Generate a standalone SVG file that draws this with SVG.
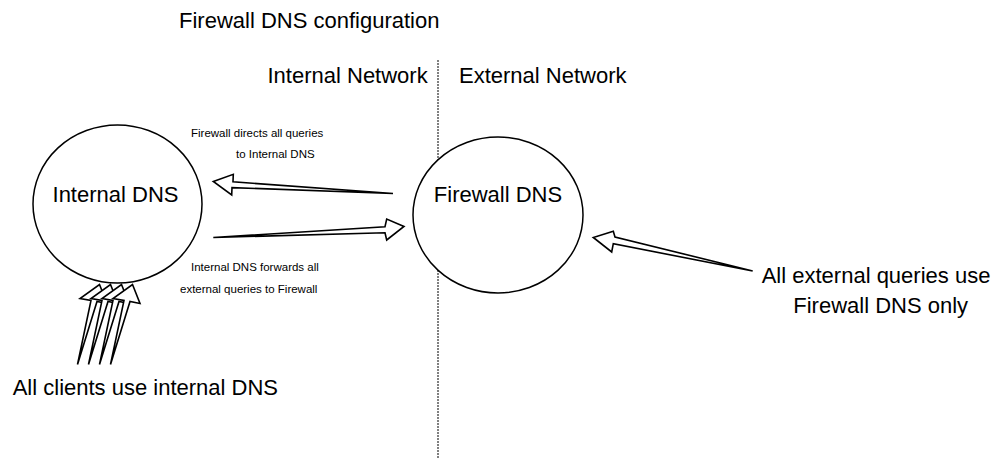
<svg xmlns="http://www.w3.org/2000/svg" width="996" height="458" viewBox="0 0 996 458">
  <style>
    text { font-family: "Liberation Sans", Arial, sans-serif; fill: #000; }
    .big { font-size: 22px; }
    .small { font-size: 11.5px; }
    .node { fill: #fff; stroke: #000; stroke-width: 1.5; }
    .arrow { fill: #fff; stroke: #000; stroke-width: 1.6; stroke-linejoin: miter; }
    .divider { stroke: #000; stroke-width: 1; stroke-dasharray: 2 1; fill: none; }
  </style>
  <defs>
    <!-- tapered block arrow for a client query -->
    <polygon id="client-arrow" class="arrow" points="77.5,364.5 91,300.5 80,298.5 99.5,284.5 107,303.5 97,301.5"/>
  </defs>

  <rect width="996" height="458" fill="#fff"/>

  <text class="big" x="179" y="27.5">Firewall DNS configuration</text>

  <!-- network boundary -->
  <g id="boundary">
    <line class="divider" x1="438" y1="60" x2="438" y2="458"/>
    <text class="big" x="267.5" y="83">Internal Network</text>
    <text class="big" x="459" y="83">External Network</text>
  </g>

  <g id="internal-dns">
    <ellipse class="node" cx="117.5" cy="204" rx="84.5" ry="79"/>
    <text class="big" x="115.5" y="202" text-anchor="middle">Internal DNS</text>
  </g>

  <g id="firewall-dns">
    <ellipse class="node" cx="498" cy="215" rx="85" ry="78"/>
    <text class="big" x="498" y="202" text-anchor="middle">Firewall DNS</text>
  </g>

  <g id="connectors">
    <!-- Firewall DNS to Internal DNS -->
    <polygon class="arrow" points="393,193.5 233,181.8 233.3,174.3 213.3,181.5 231.7,195 232,187.6"/>
    <!-- Internal DNS to Firewall DNS -->
    <polygon class="arrow" points="213.3,237.5 385,226.7 386.7,219 404,226.5 386.7,240 385,232.7"/>
    <!-- external queries to Firewall DNS -->
    <polygon class="arrow" points="752.7,271 615,237 613.3,231.3 593.3,237.5 611.7,252 613.3,243.7"/>
    <!-- clients to Internal DNS -->
    <use href="#client-arrow"/>
    <use href="#client-arrow" transform="translate(11,0)"/>
    <use href="#client-arrow" transform="translate(22,0)"/>
    <use href="#client-arrow" transform="translate(33,0)"/>
  </g>

  <g id="labels">
    <text class="small" x="191" y="136.5">Firewall directs all queries</text>
    <text class="small" x="236" y="158">to Internal DNS</text>
    <text class="small" x="191" y="270.5">Internal DNS forwards all</text>
    <text class="small" x="180" y="293">external queries to Firewall</text>
    <text class="big" x="12.7" y="395">All clients use internal DNS</text>
    <text class="big" x="761.7" y="282.5">All external queries use</text>
    <text class="big" x="793.3" y="313">Firewall DNS only</text>
  </g>
</svg>
